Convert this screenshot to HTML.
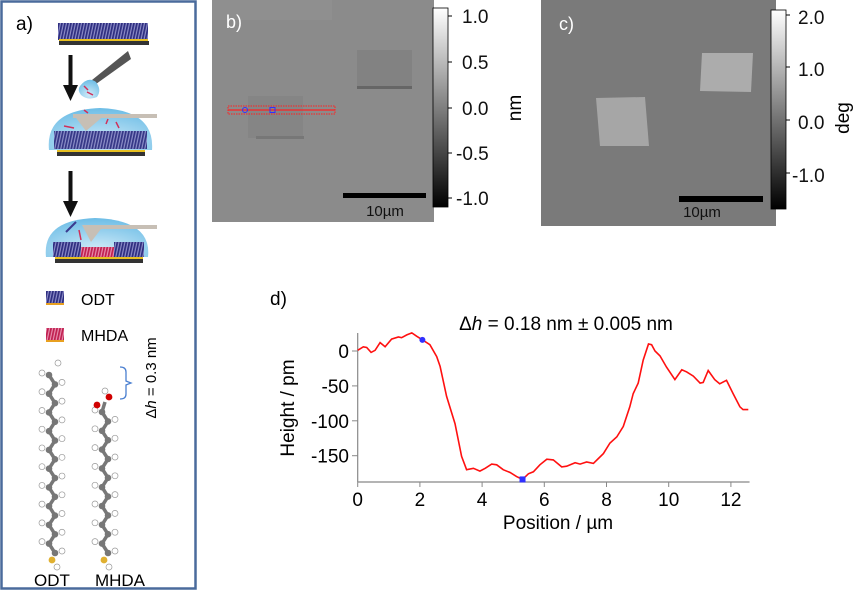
<!DOCTYPE html>
<html><head><meta charset="utf-8"><style>
body{margin:0;background:#fff;}
svg{display:block;font-family:"Liberation Sans",sans-serif;}
</style></head><body>
<svg id="fig" width="859" height="591" viewBox="0 0 859 591" xmlns="http://www.w3.org/2000/svg">
<defs>
 <pattern id="odt" width="3" height="20" patternUnits="userSpaceOnUse" patternTransform="skewX(-12)">
  <rect width="3" height="20" fill="#8d8dc8"/><rect width="1.8" height="20" fill="#2e2e80"/>
 </pattern>
 <pattern id="mhda" width="3" height="20" patternUnits="userSpaceOnUse" patternTransform="skewX(-12)">
  <rect width="3" height="20" fill="#e890b0"/><rect width="1.8" height="20" fill="#c02050"/>
 </pattern>
 <linearGradient id="cbar" x1="0" y1="0" x2="0" y2="1">
  <stop offset="0" stop-color="#fff"/><stop offset="1" stop-color="#000"/>
 </linearGradient>
 <radialGradient id="drop" cx="0.5" cy="0.8" r="0.8">
  <stop offset="0" stop-color="#cfeaf8"/><stop offset="1" stop-color="#6dbde6"/>
 </radialGradient>
</defs>

<!-- Panel a -->
<g>
 <rect x="1.5" y="1.5" width="194" height="587" fill="#fff" stroke="#4a6b9c" stroke-width="2.5"/>
 <text x="16" y="30" font-size="19">a)</text>
 <g>
  <rect x="58" y="23" width="90" height="17" fill="url(#odt)"/>
  <rect x="59" y="39" width="89" height="2" fill="#e8c020"/>
  <rect x="59" y="41" width="90" height="4" fill="#333"/>
 </g>
 <g><rect x="68.5" y="55" width="4" height="32" fill="#111"/><polygon points="63,85 78,85 70.5,101" fill="#111"/></g>
 <g>
  <polygon points="92,80 128,51 131,59 96,84" fill="#555"/>
  <path d="M80,86 Q88,76 96,82 Q102,90 97,97 Q88,101 81,95 Q77,90 80,86Z" fill="url(#drop)"/>
  <line x1="84" y1="86" x2="88" y2="90" stroke="#d0305a" stroke-width="1.5"/><line x1="87" y1="92" x2="93" y2="95" stroke="#d0305a" stroke-width="1.5"/>
 </g>
 <g>
  <path d="M49,150 Q45,110 100,108 Q155,110 152,150 Z" fill="url(#drop)"/>
  <rect x="54" y="131" width="93" height="18" fill="url(#odt)" opacity="0.95"/>
  <rect x="57" y="150" width="88" height="2" fill="#e8c020"/><rect x="57" y="152" width="88" height="4" fill="#333"/>
  <rect x="73" y="114" width="84" height="4" fill="#c7bfb5"/>
  <polygon points="73,114 106,114 86,131" fill="#c7bfb5"/>
  <line x1="64" y1="126" x2="74" y2="128" stroke="#d0305a" stroke-width="1.5"/>
  <line x1="108" y1="119" x2="106" y2="124" stroke="#d0305a" stroke-width="1.5"/>
  <line x1="116" y1="122" x2="119" y2="128" stroke="#d0305a" stroke-width="1.5"/>
  <line x1="84" y1="110" x2="88" y2="113" stroke="#d0305a" stroke-width="1.5"/>
 </g>
 <g><rect x="68.5" y="171" width="4" height="32" fill="#111"/><polygon points="63,201 78,201 70.5,217" fill="#111"/></g>
 <g>
  <path d="M46,257 Q42,220 95,218 Q152,220 148,257 Z" fill="url(#drop)"/>
  <rect x="53" y="242" width="28" height="15" fill="url(#odt)"/>
  <rect x="81" y="247" width="33" height="10" fill="url(#mhda)"/>
  <rect x="114" y="242" width="30" height="15" fill="url(#odt)"/>
  <rect x="55" y="257" width="88" height="2" fill="#e8c020"/><rect x="55" y="259" width="88" height="4" fill="#333"/>
  <rect x="88" y="225" width="69" height="4" fill="#c7bfb5"/>
  <polygon points="82,225 104,225 91,242" fill="#c7bfb5"/>
  <line x1="66" y1="232" x2="76" y2="222" stroke="#3b3b8f" stroke-width="2"/>
  <line x1="79" y1="230" x2="81" y2="240" stroke="#d0305a" stroke-width="1.5"/>
 </g>
 <g>
  <rect x="46" y="291" width="18" height="13" fill="url(#odt)"/><rect x="46" y="303" width="18" height="2" fill="#e8a020"/>
  <text x="81" y="305" font-size="16">ODT</text>
 </g>
 <g>
  <rect x="46" y="328" width="18" height="13" fill="url(#mhda)"/><rect x="46" y="340" width="18" height="2" fill="#e8a020"/>
  <text x="81" y="341" font-size="16">MHDA</text>
 </g>
 <g id="molecules"></g>
 <path d="M120,367 Q126,367 126,372 L126,381 L131,383 L126,385 L126,394 Q126,399 120,399" fill="none" stroke="#4a7fd0" stroke-width="1.3"/>
 <text transform="translate(156,378) rotate(-90)" font-size="15" text-anchor="middle">Δ<tspan font-style="italic">h</tspan> = 0.3 nm</text>
 <text x="52" y="586" font-size="17" text-anchor="middle">ODT</text>
 <text x="120" y="586" font-size="17" text-anchor="middle">MHDA</text>
</g>

<!-- Panel b -->
<g>
 <rect x="212" y="0" width="222" height="222" fill="#8b8b8b"/>
 <rect x="212" y="0" width="120" height="20" fill="#939393" opacity="0.6"/>
 <rect x="357" y="50" width="55" height="38" fill="#828282"/>
 <rect x="357" y="86" width="55" height="3" fill="#666"/>
 <rect x="248" y="96" width="55" height="42" fill="#858585"/>
 <rect x="256" y="136" width="48" height="3" fill="#777"/>
 <rect x="228" y="106" width="107" height="8" fill="none" stroke="#ff2020" stroke-width="1" stroke-dasharray="1.5,1"/>
 <line x1="228" y1="110" x2="335" y2="110" stroke="#ff2020" stroke-width="1.3"/>
 <circle cx="245" cy="110" r="2.5" fill="none" stroke="#3030ff"/>
 <rect x="270" y="107.5" width="5" height="5" fill="none" stroke="#3030ff"/>
 <text x="226" y="28" font-size="18" fill="#fff">b)</text>
 <rect x="343" y="193" width="83" height="5" fill="#000"/>
 <text x="385" y="216" font-size="15" text-anchor="middle" fill="#111">10µm</text>
 <rect x="433" y="8" width="15" height="199" fill="url(#cbar)" stroke="#000" stroke-width="0.8"/>
 <g font-size="19" fill="#111">
  <line x1="448" y1="16" x2="452" y2="16" stroke="#000"/><text x="462" y="23">1.0</text>
  <line x1="448" y1="62" x2="452" y2="62" stroke="#000"/><text x="462" y="69">0.5</text>
  <line x1="448" y1="108" x2="452" y2="108" stroke="#000"/><text x="462" y="115">0.0</text>
  <line x1="448" y1="153" x2="452" y2="153" stroke="#000"/><text x="456" y="160">-0.5</text>
  <line x1="448" y1="198" x2="452" y2="198" stroke="#000"/><text x="456" y="205">-1.0</text>
 </g>
 <text transform="translate(521,108) rotate(-90)" font-size="19" text-anchor="middle">nm</text>
</g>

<!-- Panel c -->
<g>
 <rect x="541" y="0" width="235" height="226" fill="#7a7a7a"/>
 <polygon points="596,98 645,97 649,146 600,146" fill="#a6a6a6"/>
 <polygon points="702,53 753,53 751,92 700,91" fill="#acacac"/>
 <text x="559" y="30" font-size="18" fill="#fff">c)</text>
 <rect x="679" y="196" width="84" height="6" fill="#000"/>
 <text x="702" y="217" font-size="15" text-anchor="middle" fill="#111">10µm</text>
 <rect x="771" y="10" width="15" height="199" fill="url(#cbar)" stroke="#000" stroke-width="0.8"/>
 <g font-size="19" fill="#111">
  <line x1="786" y1="15" x2="790" y2="15" stroke="#000"/><text x="798" y="24">2.0</text>
  <line x1="786" y1="67" x2="790" y2="67" stroke="#000"/><text x="798" y="76">1.0</text>
  <line x1="786" y1="120" x2="790" y2="120" stroke="#000"/><text x="798" y="129">0.0</text>
  <line x1="786" y1="173" x2="790" y2="173" stroke="#000"/><text x="792" y="182">-1.0</text>
 </g>
 <text transform="translate(849,118) rotate(-90)" font-size="19" text-anchor="middle">deg</text>
</g>

<!-- Panel d -->
<g id="chart">
 <text x="270" y="305" font-size="19">d)</text>
 <text x="566" y="330" font-size="19" text-anchor="middle">Δ<tspan font-style="italic">h</tspan> = 0.18 nm ± 0.005 nm</text>
 <text transform="translate(294,408) rotate(-90)" font-size="19" text-anchor="middle">Height / pm</text>
 <text x="558" y="529" font-size="19" text-anchor="middle">Position / µm</text>
</g>
</svg>
<script>
const posUm = [0,0.18,0.29,0.43,0.56,0.72,0.88,1.09,1.31,1.41,1.58,1.74,1.9,2.08,2.32,2.54,2.65,2.86,3.13,3.34,3.5,3.72,3.93,4.1,4.31,4.47,4.68,4.9,5.11,5.3,5.49,5.65,5.86,6.08,6.29,6.56,6.72,6.99,7.15,7.36,7.58,7.74,7.9,8.11,8.33,8.54,8.75,8.86,9.02,9.18,9.35,9.45,9.56,9.72,9.93,10.2,10.42,10.58,10.79,11.01,11.11,11.27,11.48,11.64,11.86,12.07,12.29,12.39,12.56];
const heightPm = [1,6,5,-2,1,12,6,17,20,19,23,26,21,16,9,-8,-22,-65,-104,-151,-170,-168,-172,-168,-162,-163,-170,-174,-180,-184,-176,-173,-163,-155,-156,-166,-165,-160,-162,-159,-161,-154,-147,-132,-123,-108,-80,-61,-46,-13,10,9,0,-7,-23,-41,-27,-30,-36,-46,-45,-28,-41,-47,-42,-61,-80,-84,-84];
const xTicks = [0,2,4,6,8,10,12];
const yTicks = [0,-50,-100,-150];
const markerPoints = [[2.08,16],[5.3,-184]];

const NS='http://www.w3.org/2000/svg';
const chart=document.getElementById('chart');
const X=v=>357.7+v*31.1;
const Y=v=>351-v*0.698;
function mk(tag,attrs,parent){const e=document.createElementNS(NS,tag);for(const k in attrs)e.setAttribute(k,attrs[k]);(parent||chart).appendChild(e);return e;}
const xa=mk('line',{x1:X(0),y1:482,x2:X(12.6),y2:482,stroke:'#888','stroke-width':1.2});


const ya=mk('line',{x1:357.7,y1:333,x2:357.7,y2:482,stroke:'#888','stroke-width':1.2});


xTicks.forEach(t=>{
 mk('line',{x1:X(t),y1:482,x2:X(t),y2:487,stroke:'#888'});
 const tx=mk('text',{x:X(t),y:506,'font-size':19,'text-anchor':'middle'});tx.textContent=t;
 
 
});
yTicks.forEach(t=>{
 mk('line',{x1:352,y1:Y(t),x2:357.7,y2:Y(t),stroke:'#888'});
 const tx=mk('text',{x:349,y:Y(t)+7,'font-size':19,'text-anchor':'end'});tx.textContent=t;
 
 
});
const line=mk('polyline',{points:posUm.map((v,i)=>X(v).toFixed(1)+','+Y(heightPm[i]).toFixed(1)).join(' '),fill:'none',stroke:'#ff1010','stroke-width':1.6});


const m1=mk('circle',{cx:X(markerPoints[0][0]),cy:Y(markerPoints[0][1]),r:3,fill:'#3030ff'});


const m2=mk('rect',{x:X(markerPoints[1][0])-3,y:Y(markerPoints[1][1])-3,width:6,height:6,fill:'#3030ff'});



// molecule models
const mol=document.getElementById('molecules');
function chain(cx,y0,y1){
 const n=Math.round((y1-y0)/9.6);
 for(let i=0;i<=n;i++){
  const y=y0+i*(y1-y0)/n, x=cx+(i%2?3:-3);
  mk('circle',{cx:x+(i%2?7:-7),cy:y-2,r:3,fill:'#fff',stroke:'#999','stroke-width':0.7},mol);
  if(i<n) mk('line',{x1:x,y1:y,x2:cx+((i+1)%2?3:-3),y2:y+(y1-y0)/n,stroke:'#777','stroke-width':3.5},mol);
  mk('circle',{cx:x,cy:y,r:3.3,fill:'#777'},mol);
 }
}
chain(52,375,553);
mk('circle',{cx:58,cy:363,r:3,fill:'#fff',stroke:'#999','stroke-width':0.7},mol);
mk('circle',{cx:52,cy:560,r:3.4,fill:'#e0b030'},mol);
mk('circle',{cx:57,cy:567,r:3,fill:'#fff',stroke:'#999','stroke-width':0.7},mol);
chain(105,412,553);
mk('circle',{cx:109,cy:397,r:3.4,fill:'#d00000'},mol);
mk('circle',{cx:97,cy:405,r:3.4,fill:'#d00000'},mol);
mk('circle',{cx:105,cy:391,r:3,fill:'#fff',stroke:'#999','stroke-width':0.7},mol);
mk('line',{x1:102,y1:412,x2:105,y2:402,stroke:'#777','stroke-width':3.5},mol);
mk('circle',{cx:104,cy:560,r:3.4,fill:'#e0b030'},mol);
mk('circle',{cx:109,cy:567,r:3,fill:'#fff',stroke:'#999','stroke-width':0.7},mol);
</script>
</body></html>
